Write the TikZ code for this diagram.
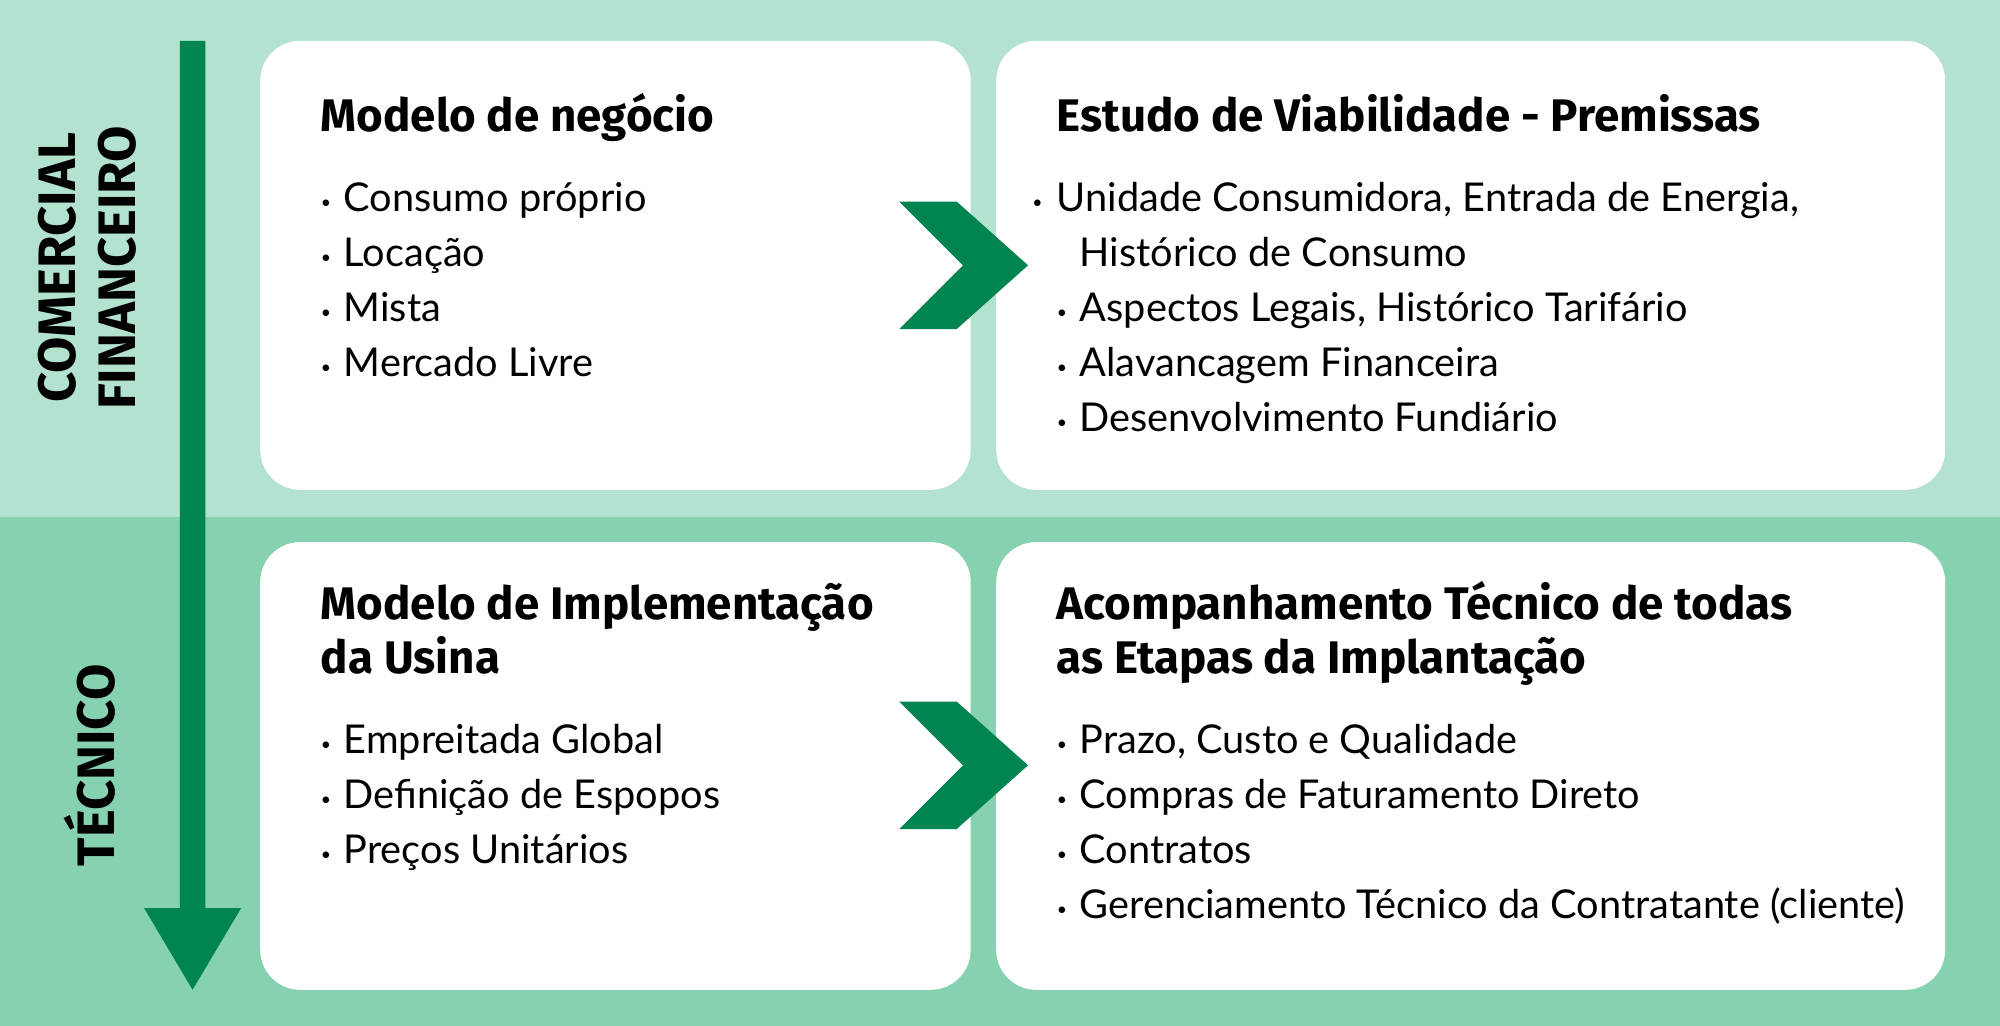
\documentclass[tikz,border=0pt]{standalone}
\usepackage{fontspec}
\setmainfont{Lato}
\newfontfamily\titlefont{Fira Sans}
\usetikzlibrary{positioning}
\definecolor{lightband}{HTML}{B3E3CF}
\definecolor{darkband}{HTML}{86D1B0}
\definecolor{arrowgreen}{HTML}{008450}
\tikzset{
  box/.style={fill=white,rounded corners=0.4cm},
  chevron/.style={fill=arrowgreen},
  title/.style={anchor=base west,inner sep=0pt,font=\titlefont\fontsize{13}{14}\selectfont\bfseries},
  item/.style={anchor=base west,inner sep=0pt,font=\fontsize{11.3}{13}\selectfont},
  side/.style={rotate=90,inner sep=0pt,font=\titlefont\fontsize{15}{16}\selectfont\bfseries}
}
\newcommand{\bul}{\makebox[18\unitlength][l]{\raisebox{0.15ex}{\tiny\textbullet}}}
\setlength{\unitlength}{0.012755cm}
\begin{document}
\begin{tikzpicture}[x=0.012755cm,y=-0.012755cm]
  \useasboundingbox (0,0) rectangle (1568,804);
  \fill[lightband] (0,0) rectangle (1568,405);
  \fill[darkband] (0,405) rectangle (1568,804);
  % flow arrow
  \fill[arrowgreen] (141,32) -- (161,32) -- (161,712) -- (189,712) -- (151,776) -- (113,712) -- (141,712) -- cycle;
  \node[side] (com) at (45,210) {COMERCIAL};
  \node[side] (fin) at (92,210) {FINANCEIRO};
  \node[side] (tec) at (70,600) {TÉCNICO};
  % boxes
  \fill[box] (204,32) rectangle (761,384);
  \fill[box] (781,32) rectangle (1525,384);
  \fill[box] (204,425) rectangle (761,776);
  \fill[box] (781,425) rectangle (1525,776);
  \foreach \y in {0,392}{
    \fill[chevron] (705,158+\y) -- (750,158+\y) -- (806,208+\y) -- (750,258+\y) -- (705,258+\y) -- (755,208+\y) -- cycle;
  }
  % titles
  \node[title] (t1) at (251,103) {Modelo de negócio};
  \node[title] (t2) at (828,103) {Estudo de Viabilidade - Premissas};
  \node[title] (t3a) at (251,486) {Modelo de Implementação};
  \node[title] (t3b) at (251,528) {da Usina};
  \node[title] (t4a) at (828,486) {Acompanhamento Técnico de todas};
  \node[title] (t4b) at (828,528) {as Etapas da Implantação};
  % lists
  \foreach \t [count=\i] in {Consumo próprio,Locação,Mista,Mercado Livre}
    \node[item] (a\i) at (251,123+43*\i) {\bul\t};
  \foreach \t [count=\i] in {{Unidade Consumidora, Entrada de Energia,},{\hspace{18\unitlength}Histórico de Consumo},{\bul Aspectos Legais, Histórico Tarifário},{\bul Alavancagem Financeira},{\bul Desenvolvimento Fundiário}}
    \node[item] (b\i) at (828,123+43*\i) {\t};
  \node[item] at (b1.base west) [anchor=base east] {\bul};
  \foreach \t [count=\i] in {Empreitada Global,Definição de Espopos,Preços Unitários}
    \node[item] (c\i) at (251,548+43*\i) {\bul\t};
  \foreach \t [count=\i] in {{Prazo, Custo e Qualidade},Compras de Faturamento Direto,Contratos,Gerenciamento Técnico da Contratante (cliente)}
    \node[item] (d\i) at (828,548+43*\i) {\bul\t};
\end{tikzpicture}
\end{document}
